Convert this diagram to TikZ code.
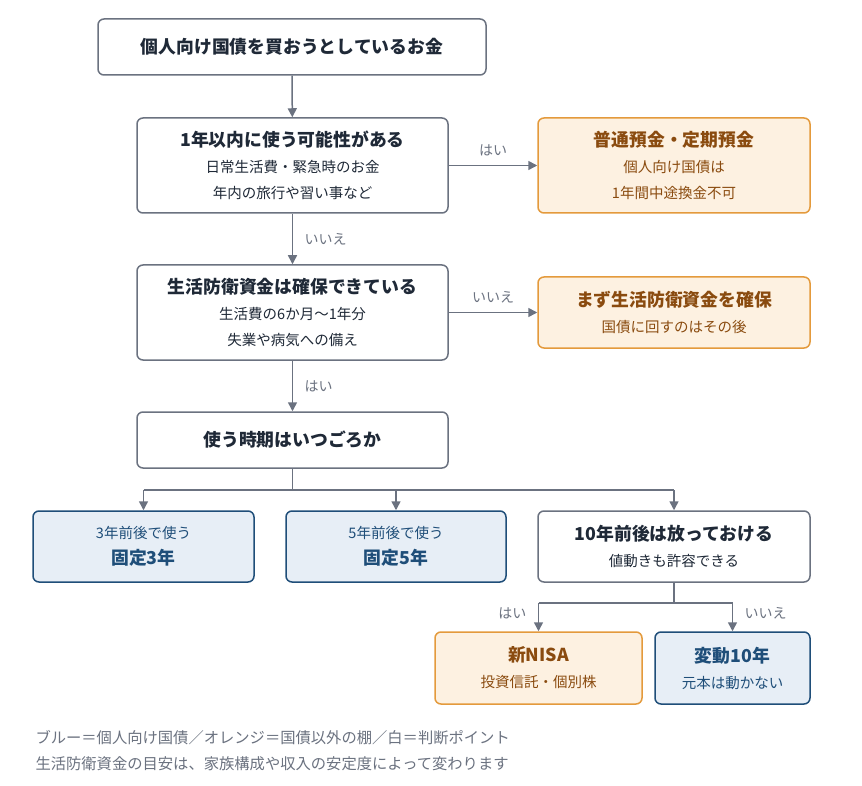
\documentclass[tikz,border=0pt]{standalone}
\usepackage{fontspec}
\setmainfont{Noto Sans CJK JP}
\usetikzlibrary{arrows.meta}
\definecolor{gline}{HTML}{6B7280}
\definecolor{dtext}{HTML}{1F2937}
\definecolor{oline}{HTML}{E49A3C}
\definecolor{ofill}{HTML}{FDF1E1}
\definecolor{otext}{HTML}{8A4B0F}
\definecolor{bline}{HTML}{1F4E79}
\definecolor{bfill}{HTML}{E7EEF6}
\definecolor{btext}{HTML}{1F4E79}
\newcommand{\ttl}[1]{{\bfseries\fontsize{17.8}{26}\selectfont #1}}
\begin{document}
\begin{tikzpicture}[x=1pt,y=-1pt,
 box/.style={draw=gline,line width=1.5pt,rounded corners=6pt,fill=white,text=dtext,align=center,font=\fontsize{14.5}{26}\selectfont},
 obox/.style={box,draw=oline,fill=ofill,text=otext},
 bbox/.style={box,draw=bline,fill=bfill,text=btext},
 arr/.style={draw=gline,line width=1.5pt,-{Triangle[length=9pt,width=9pt]}},
 ln/.style={draw=gline,line width=1.5pt},
 lab/.style={text=gline,font=\fontsize{14}{16}\selectfont}]
\useasboundingbox (0,0) rectangle (862,786);
\fill[white] (0,0) rectangle (862,786);
\node[box,minimum width=388pt,minimum height=56pt] (top) at (292,47) {\ttl{個人向け国債を買おうとしているお金}};
\node[box,minimum width=311pt,minimum height=95pt] (q1) at (292.5,165.5) {\ttl{1年以内に使う可能性がある}\\日常生活費・緊急時のお金\\年内の旅行や習い事など};
\node[obox,minimum width=272pt,minimum height=95pt] (o1) at (674,165.5) {\ttl{普通預金・定期預金}\\個人向け国債は\\1年間中途換金不可};
\node[box,minimum width=311pt,minimum height=95pt] (q2) at (292.5,312.5) {\ttl{生活防衛資金は確保できている}\\生活費の6か月〜1年分\\失業や病気への備え};
\node[obox,minimum width=272pt,minimum height=71pt] (o2) at (674,312.5) {\ttl{まず生活防衛資金を確保}\\国債に回すのはその後};
\node[box,minimum width=311pt,minimum height=56pt] (q3) at (292.5,440) {\ttl{使う時期はいつごろか}};
\node[bbox,minimum width=221pt,minimum height=71pt] (b1) at (143.5,546.5) {3年前後で使う\\\ttl{固定3年}};
\node[bbox,minimum width=220pt,minimum height=71pt] (b2) at (396,546.5) {5年前後で使う\\\ttl{固定5年}};
\node[box,minimum width=272pt,minimum height=71pt] (w) at (674,546.5) {\ttl{10年前後は放っておける}\\値動きも許容できる};
\node[obox,minimum width=207pt,minimum height=72pt] (o3) at (538.5,668) {\ttl{新NISA}\\投資信託・個別株};
\node[bbox,minimum width=155pt,minimum height=72pt] (b3) at (732.5,668) {\ttl{変動10年}\\元本は動かない};
\draw[arr] (top) -- (q1);
\draw[arr] (q1.east) -- (o1.west) node[lab,midway,above=5pt] {はい};
\draw[arr] (q1) -- node[lab,right=8pt] {いいえ} (q2);
\draw[arr] (q2.east) -- (o2.west) node[lab,midway,above=5pt] {いいえ};
\draw[arr] (q2) -- node[lab,right=8pt] {はい} (q3);
\coordinate (j1) at (292.5,490);
\coordinate (j1l) at (143.5,490);
\coordinate (j1m) at (396,490);
\coordinate (j1r) at (674,490);
\draw[ln] (q3.south) -- (j1);
\draw[ln] (j1l) -- (j1r);
\draw[arr] (j1l) -- (b1);
\draw[arr] (j1m) -- (b2);
\draw[arr] (j1r) -- (w);
\coordinate (j2) at (674,603);
\coordinate (j2l) at (538.5,603);
\coordinate (j2r) at (732.5,603);
\draw[ln] (w.south) -- (j2);
\draw[ln] (j2l) -- (j2r);
\draw[arr] (j2l) -- node[lab,left=8pt,pos=0.35] {はい} (o3);
\draw[arr] (j2r) -- node[lab,right=8pt,pos=0.35] {いいえ} (b3);
\node[anchor=west,text=gline,font=\fontsize{15.3}{16}\selectfont] (f1) at (32,738) {ブルー＝個人向け国債／オレンジ＝国債以外の棚／白＝判断ポイント};
\node[anchor=west,text=gline,font=\fontsize{15.3}{16}\selectfont] (f2) at (32,764) {生活防衛資金の目安は、家族構成や収入の安定度によって変わります};
\end{tikzpicture}
\end{document}
